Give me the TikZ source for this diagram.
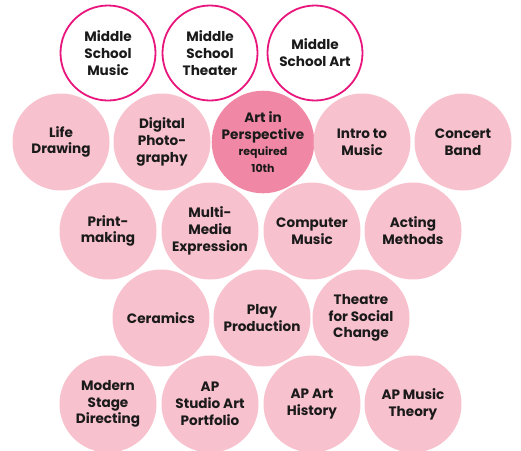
\documentclass[tikz,border=0pt]{standalone}
\usepackage{fontspec}
\setmainfont{Poppins}
\definecolor{lightpink}{HTML}{F8C1CE}
\definecolor{darkpink}{HTML}{F088A5}
\definecolor{rimpink}{HTML}{E8157D}
\definecolor{inkgray}{HTML}{1A1A1A}

\begin{document}
\begin{tikzpicture}[x=1pt, y=-1pt,
		course/.style = {circle, fill=lightpink, minimum size=97pt, inner sep=0pt,
			align=center, text=inkgray, font=\fontsize{13.6}{16.8}\selectfont\bfseries},
		core/.style = {course, fill=darkpink},
		prior/.style = {course, fill=white, draw=rimpink, line width=1.8pt, minimum size=95pt}
		]
		\useasboundingbox (0,0) rectangle (521,450);
		% middle school
		\node[prior] (msmusic) at (108,53) {Middle\\School\\Music};
		\node[prior] (mstheater) at (210,53) {Middle\\School\\Theater};
		\node[prior] (msart) at (315,53) {Middle\\School Art};
		% row two
		\node[core] (persp) at (263,142) {Art in\\Perspective\\{\fontsize{11}{13}\selectfont required}\\{\fontsize{11}{13}\selectfont 10th}};
		\node[course] (life) at (61,142) {Life\\Drawing};
		\node[course] (photo) at (162,142) {Digital\\Photo-\\graphy};
		\node[course] (intro) at (362,142) {Intro to\\Music};
		\node[course] (band) at (463,142) {Concert\\Band};
		% row three
		\node[course] (print) at (108,231) {Print-\\making};
		\node[course] (media) at (210,231) {Multi-\\Media\\Expression};
		\node[course] (compmusic) at (312,231) {Computer\\Music};
		\node[course] (acting) at (413,231) {Acting\\Methods};
		% row four
		\node[course] (ceramics) at (161,318) {Ceramics};
		\node[course] (play) at (262,318) {Play\\Production};
		\node[course] (social) at (361,318) {Theatre\\for Social\\Change};
		% row five
		\node[course] (directing) at (108,404) {Modern\\Stage\\Directing};
		\node[course] (studio) at (210,404) {AP\\Studio Art\\Portfolio};
		\node[course] (arthist) at (312,404) {AP Art\\History};
		\node[course] (theory) at (413,404) {AP Music\\Theory};
	\end{tikzpicture}
\end{document}
